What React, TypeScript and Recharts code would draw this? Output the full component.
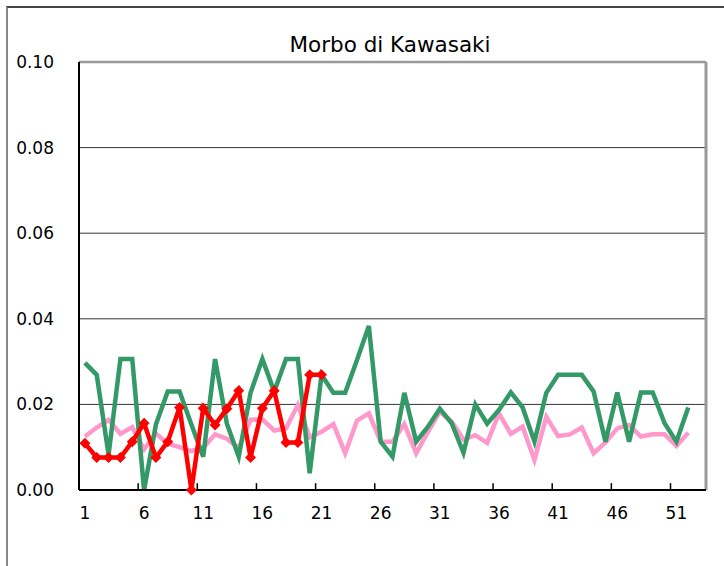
import React from "react";
import { LineChart, Line, XAxis, YAxis, CartesianGrid, ReferenceLine } from "recharts";

const weeks = [
  1, 2, 3, 4, 5, 6, 7, 8, 9, 10, 11, 12, 13, 14, 15, 16, 17, 18, 19, 20, 21, 22, 23, 24, 25, 26,
  27, 28, 29, 30, 31, 32, 33, 34, 35, 36, 37, 38, 39, 40, 41, 42, 43, 44, 45, 46, 47, 48, 49, 50,
  51, 52,
];

// pink series
const pinkValues = [
  0.0125, 0.0146, 0.0164, 0.0131, 0.0147, 0.0095, 0.0132, 0.0108, 0.01, 0.0091, 0.0098, 0.013,
  0.012, 0.0098, 0.0164, 0.0165, 0.0139, 0.0144, 0.0199, 0.0123, 0.0136, 0.0154, 0.0086, 0.0162,
  0.0179, 0.0113, 0.0113, 0.0154, 0.0086, 0.0136, 0.0183, 0.016, 0.0118, 0.0128, 0.011, 0.0179,
  0.0131, 0.0148, 0.007, 0.0171, 0.0126, 0.013, 0.0146, 0.0086, 0.0111, 0.0144, 0.0152, 0.0125,
  0.013, 0.013, 0.0103, 0.0134,
];

// green series
const greenValues = [
  0.0297, 0.0269, 0.0082, 0.0306, 0.0306, 0.0, 0.0153, 0.023, 0.023, 0.0153, 0.0078, 0.0306,
  0.0155, 0.0078, 0.0227, 0.0306, 0.023, 0.0306, 0.0306, 0.0039, 0.0269, 0.0227, 0.0227, 0.0304,
  0.0383, 0.0113, 0.0078, 0.0227, 0.0113, 0.0148, 0.019, 0.0156, 0.0087, 0.02, 0.0155, 0.0187,
  0.0228, 0.0193, 0.0113, 0.0227, 0.0269, 0.0269, 0.0269, 0.023, 0.0113, 0.0228, 0.0113, 0.0228,
  0.0228, 0.0156, 0.0113, 0.0193,
];

// red series (current season, first 21 weeks)
const redValues = [
  0.0109, 0.0076, 0.0076, 0.0076, 0.0113, 0.0156, 0.0076, 0.0113, 0.0193, 0.0, 0.0191, 0.0152,
  0.019, 0.0232, 0.0076, 0.0191, 0.0232, 0.0111, 0.0111, 0.0269, 0.0269,
];

const xTicks = [1, 6, 11, 16, 21, 26, 31, 36, 41, 46, 51];
const xTickMarks = [5.5, 10.5, 15.5, 20.5, 25.5, 30.5, 35.5, 40.5, 45.5, 50.5];
const yTicks = [0, 0.02, 0.04, 0.06, 0.08, 0.1];

const data = weeks.map((w, i) => ({
  week: w,
  pink: pinkValues[i],
  green: greenValues[i],
  red: i < redValues.length ? redValues[i] : null,
}));

const FONT = "'DejaVu Sans', sans-serif";

const Diamond = (props: any) => {
  const { cx, cy, index } = props;
  if (cx == null || cy == null || props.value == null) return <g key={index} />;
  const r = 5.5;
  return (
    <path
      key={index}
      d={`M${cx},${cy - r}L${cx + r},${cy}L${cx},${cy + r}L${cx - r},${cy}Z`}
      fill="#FF0000"
    />
  );
};

export default function App() {
  return (
    <div style={{ position: "absolute", left: 0, top: 0, width: 724, height: 566, background: "#fff" }}>
      <div
        style={{
          position: "absolute",
          left: 6,
          top: 6,
          right: 0,
          bottom: 0,
          borderLeft: "2px solid #888",
          borderTop: "2px solid #444",
        }}
      />
      <LineChart
        width={724}
        height={566}
        data={data}
        margin={{ top: 62, right: 18, left: 0, bottom: 36 }}
        style={{ position: "absolute", left: 0, top: 0 }}
      >
        <CartesianGrid horizontal vertical={false} stroke="#333" strokeWidth={1} />
        <XAxis
          dataKey="week"
          type="number"
          domain={[0.5, 53.5]}
          ticks={xTicks}
          interval={0}
          height={40}
          tickSize={0}
          tickMargin={17}
          tickLine={false}
          axisLine={{ stroke: "#000", strokeWidth: 2 }}
          tick={{ fill: "#000", fontSize: 17, fontFamily: FONT }}
        />
        <YAxis
          type="number"
          domain={[0, 0.1]}
          ticks={yTicks}
          width={79}
          tickSize={0}
          tickMargin={25}
          tickLine={false}
          tickFormatter={(v: number) => v.toFixed(2)}
          axisLine={{ stroke: "#000", strokeWidth: 2 }}
          tick={{ fill: "#000", fontSize: 17, fontFamily: FONT }}
        />
        <ReferenceLine y={0.1} stroke="#999" strokeWidth={2.5} />
        <ReferenceLine x={53.5} stroke="#999" strokeWidth={3} />
        {xTickMarks.map((t) => (
          <ReferenceLine
            key={t}
            segment={[
              { x: t, y: 0 },
              { x: t, y: 0.0016 },
            ]}
            stroke="#000"
            strokeWidth={1.5}
          />
        ))}
        <Line
          dataKey="pink"
          stroke="#FF99CC"
          strokeWidth={4.5}
          dot={false}
          activeDot={false}
          isAnimationActive={false}
        />
        <Line
          dataKey="green"
          stroke="#339966"
          strokeWidth={4.5}
          dot={false}
          activeDot={false}
          isAnimationActive={false}
        />
        <Line
          dataKey="red"
          stroke="#FF0000"
          strokeWidth={4.5}
          dot={Diamond}
          activeDot={false}
          isAnimationActive={false}
        />
      </LineChart>
      <svg
        width={724}
        height={80}
        style={{ position: "absolute", left: 0, top: 0, pointerEvents: "none" }}
      >
        <text x={390} y={52} textAnchor="middle" fontFamily={FONT} fontSize={21.5} fill="#000">
          Morbo di Kawasaki
        </text>
      </svg>
    </div>
  );
}
